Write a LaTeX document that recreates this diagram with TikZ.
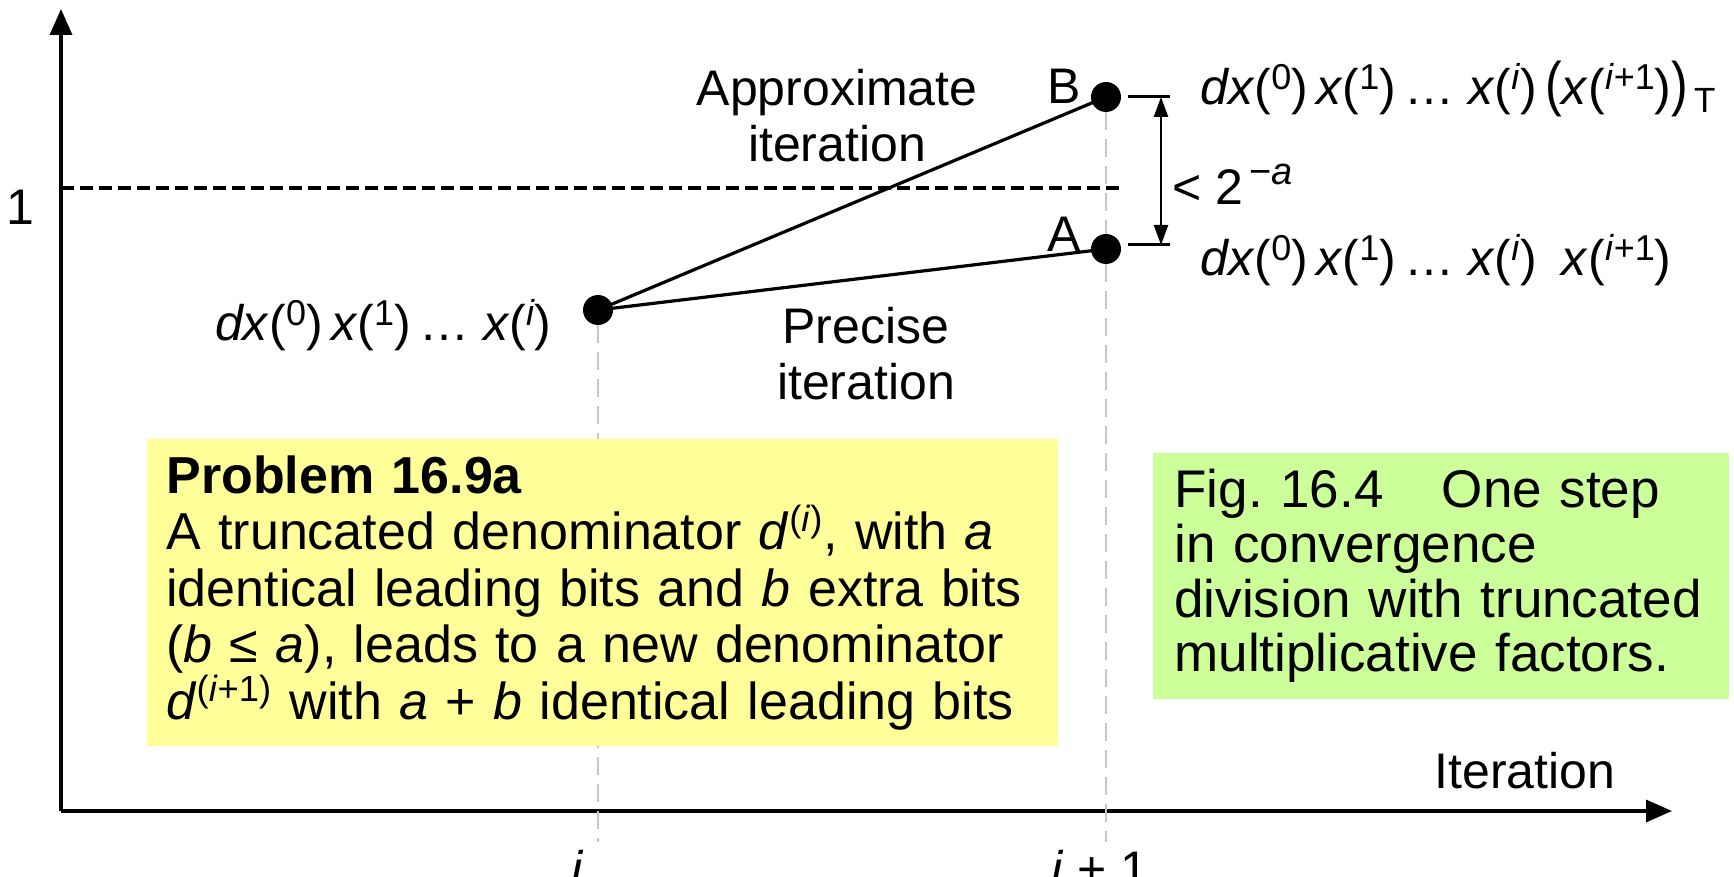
\documentclass[tikz,border=0pt]{standalone}
\usepackage{fontspec}
\usepackage{graphicx}
\setmainfont{Liberation Sans}
\usetikzlibrary{arrows.meta}

\newcommand{\up}[1]{\textsuperscript{(#1)}}
\newcommand{\bigup}[1]{(\raisebox{0.3em}{\fontsize{18}{18}\selectfont #1})}

\tikzset{
  dot/.style={circle,fill=black,inner sep=0pt,minimum size=15pt},
  guide/.style={draw=black!22,line width=1.2pt,dash pattern=on 9pt off 4.5pt},
  axis/.style={line width=1.7pt,-{Triangle[length=13pt,width=11pt]}},
  lbl/.style={font=\fontsize{25}{28}\selectfont,inner sep=0pt},
  note/.style={anchor=north west,align=left,inner ysep=8pt,font=\fontsize{26}{28.3}\selectfont},
}

\begin{document}
\frenchspacing
\begin{tikzpicture}[x=0.5pt,y=-0.5pt]
            \useasboundingbox (0,0) rectangle (1734,877);
            \coordinate (O) at (61,811);
            \coordinate (ytop) at (61,9);
            \coordinate (xend) at (1672,811);
            \draw[axis] (O) -- (ytop);
            \draw[axis] (O) -- (xend);
            \node[lbl] (one) at (20,207) {1};
            \coordinate (oneend) at (1122,188);
            \draw[line width=1.8pt,dash pattern=on 6.5pt off 3pt] (61,188) -- (oneend);
            \node[lbl] at (1525,771) {Iteration};

            \node[dot] (C) at (598,310) {};
            \node[dot] (B) at (1106,97) {};
            \node[dot] (A) at (1106,249) {};
            \coordinate (ib) at (598,842);
            \coordinate (jb) at (1106,842);
            \draw[guide] (C) -- (ib);
            \draw[guide] (B) -- (A);
            \draw[guide] (A) -- (jb);
            \draw[line width=1.6pt] (C.center) -- (B.center);
            \draw[line width=1.6pt] (C.center) -- (A.center);
            \node[lbl] at (1064,86) {B};
            \node[lbl] at (1064,234) {A};

            % gap between B and A
            \coordinate (tB) at (1161,97);
            \coordinate (tA) at (1161,245);
            \draw[line width=1.5pt] (1128,97) -- (1170,97);
            \draw[line width=1.5pt] (1128,245) -- (1170,245);
            \draw[line width=1.2pt,{Triangle[length=10pt,width=7pt]}-{Triangle[length=10pt,width=7pt]}] (tB) -- (tA);
            \node[lbl,anchor=base west] at (1172,205) {< 2\raisebox{0.4em}{\fontsize{19}{19}\selectfont\,−\textit{a}}};

            \node[lbl,anchor=base west] at (1200,105) {\textit{dx}\bigup{0}\,\textit{x}\bigup{1}\,… \textit{x}\bigup{\textit{i}}\,\scalebox{1}[1.2]{(}\textit{x}\bigup{\textit{i}+1}\scalebox{1}[1.2]{)}\textsubscript{\,T}};
            \node[lbl,anchor=base west] at (1200,276) {\textit{dx}\bigup{0}\,\textit{x}\bigup{1}\,… \textit{x}\bigup{\textit{i}}\enspace\textit{x}\bigup{\textit{i}+1}};
            \node[lbl,anchor=base east] at (552,340) {\textit{dx}\bigup{0}\,\textit{x}\bigup{1}\,… \textit{x}\bigup{\textit{i}}};
            \node[lbl,align=center] at (837,116) {Approximate\\iteration};
            \node[lbl,align=center] at (866,354) {Precise\\iteration};

            \node[lbl,anchor=north] at (578,850) {\textit{i}};
            \node[lbl,anchor=north] at (1100,850) {\textit{i} + 1};

            \node[note,fill={rgb,255:red,255;green,255;blue,153},text width=446pt,inner xsep=4.75pt] (prob) at (147,439) {\hspace*{4.75pt}\textbf{Problem 16.9a}\\
              \hspace*{4.75pt}A truncated denominator \textit{d}\up{\textit{i}}, with \textit{a}\\
              \hspace*{4.75pt}identical leading bits and \textit{b} extra bits\\
              \hspace*{4.75pt}(\textit{b} ≤ \textit{a}), leads to a new denominator\\
              \hspace*{4.75pt}\textit{d}\up{\textit{i}+1} with \textit{a} + \textit{b} identical leading bits};
            \node[note,fill={rgb,255:red,204;green,255;blue,153},text width=267pt,inner xsep=10.5pt,font=\fontsize{26.5}{27.3}\selectfont] (cap) at (1153,453) {Fig. 16.4\hspace{1.1em}One step\\
              in convergence\\
              division with truncated\\
              multiplicative factors.};
        \end{tikzpicture}
\end{document}
